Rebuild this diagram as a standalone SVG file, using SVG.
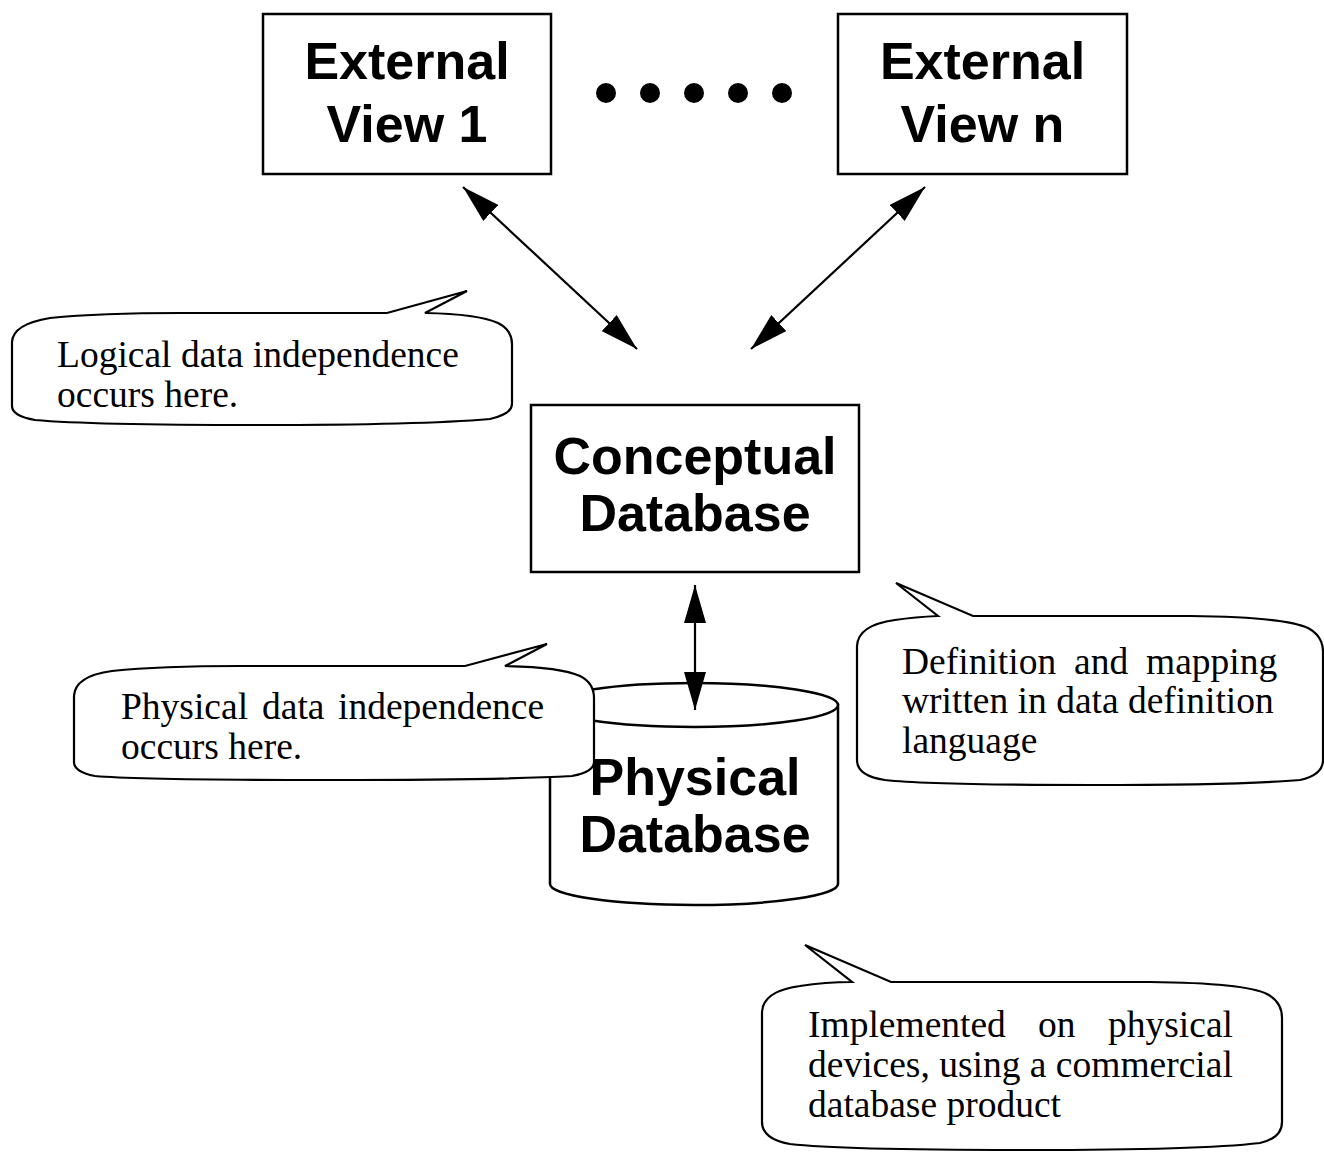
<svg xmlns="http://www.w3.org/2000/svg" width="1324" height="1152" viewBox="0 0 1324 1152">
<style>
.box{fill:#fff;stroke:#000;stroke-width:2.5}
.bub{fill:#fff;stroke:#000;stroke-width:2.2;stroke-linejoin:miter}
.big{font-family:"Liberation Sans",Arial,sans-serif;font-weight:bold;font-size:52px;text-anchor:middle;fill:#000}
.note{font-family:"Liberation Serif","Times New Roman",serif;font-size:37.5px;fill:#000}
.conn{stroke:#000;stroke-width:2.2;fill:none;marker-start:url(#ah);marker-end:url(#ah)}
</style>
<defs>
<marker id="ah" viewBox="0 0 38 22" refX="38" refY="11" markerWidth="38" markerHeight="22" markerUnits="userSpaceOnUse" orient="auto-start-reverse">
<path d="M0,0 L38,11 L0,22 Z" fill="#000"/>
</marker>
</defs>
<rect width="1324" height="1152" fill="#fff"/>

<g id="ext1">
<rect class="box" x="263" y="14" width="288" height="160"/>
<text class="big" x="407" y="79">External</text>
<text class="big" x="407" y="142">View 1</text>
</g>

<g id="dots">
<circle cx="606" cy="93" r="10"/>
<circle cx="650" cy="93" r="10"/>
<circle cx="694" cy="93" r="10"/>
<circle cx="738" cy="93" r="10"/>
<circle cx="782" cy="93" r="10"/>
</g>

<g id="extn">
<rect class="box" x="838" y="14" width="289" height="160"/>
<text class="big" x="982.5" y="79">External</text>
<text class="big" x="982.5" y="142">View n</text>
</g>

<g id="conceptual">
<rect class="box" x="531" y="405" width="328" height="167"/>
<text class="big" x="695" y="474">Conceptual</text>
<text class="big" x="695" y="531">Database</text>
</g>

<g id="physical">
<path class="box" d="M550,705 L550,884 A144,21 0 0 0 838,884 L838,705 Z"/>
<ellipse class="box" cx="694" cy="705" rx="144" ry="22"/>
<text class="big" x="695" y="795">Physical</text>
<text class="big" x="695" y="852">Database</text>
</g>

<g id="connectors">
<line class="conn" x1="463" y1="187" x2="637" y2="349"/>
<line class="conn" x1="925" y1="187" x2="751" y2="349"/>
<line class="conn" x1="695" y1="585" x2="695" y2="710"/>
</g>

<g id="note-logical">
<path class="bub" d="M12,342 Q13,324 50,318 Q100,313 180,313 L387,313 L467,291 L425,313 Q478,314 498,323 Q512,330 512,344 L512,404 Q512,414 490,419 Q420,425 260,425 Q90,425 35,420 Q12,416 12,406 Z"/>
<text class="note" x="57" y="367">Logical data independence</text>
<text class="note" x="57" y="407">occurs here.</text>
</g>

<g id="note-physical">
<path class="bub" d="M74,696 Q75,676 112,671 Q160,666 240,666 L465,666 L547,644 L505,666 Q560,667 580,676 Q594,683 594,698 L594,762 Q594,772 572,776 Q500,780 330,780 Q140,780 95,776 Q74,772 74,762 Z"/>
<text class="note" y="719"><tspan x="121">Physical</tspan><tspan x="262">data</tspan><tspan x="338">independence</tspan></text>
<text class="note" x="121" y="759">occurs here.</text>
</g>

<g id="note-ddl">
<path class="bub" d="M857,646 Q858,625 895,620 Q915,617 938,616 L896,583 L973,616 L1190,616 Q1285,617 1308,628 Q1323,636 1323,652 L1323,760 Q1323,775 1300,780 Q1240,785 1090,785 Q930,785 885,780 Q857,776 857,760 Z"/>
<text class="note" y="674"><tspan x="902">Definition</tspan><tspan x="1074">and</tspan><tspan x="1146">mapping</tspan></text>
<text class="note" x="902" y="713">written in data definition</text>
<text class="note" x="902" y="753">language</text>
</g>

<g id="note-impl">
<path class="bub" d="M762,1012 Q763,991 800,986 Q825,982 852,982 L805,945 L891,982 L1150,982 Q1245,983 1267,994 Q1282,1002 1282,1018 L1282,1122 Q1282,1138 1260,1143 Q1200,1150 1030,1150 Q840,1150 790,1144 Q762,1139 762,1122 Z"/>
<text class="note" y="1037"><tspan x="808">Implemented</tspan><tspan x="1038">on</tspan><tspan x="1108">physical</tspan></text>
<text class="note" x="808" y="1077">devices, using a commercial</text>
<text class="note" x="808" y="1117">database product</text>
</g>
</svg>
